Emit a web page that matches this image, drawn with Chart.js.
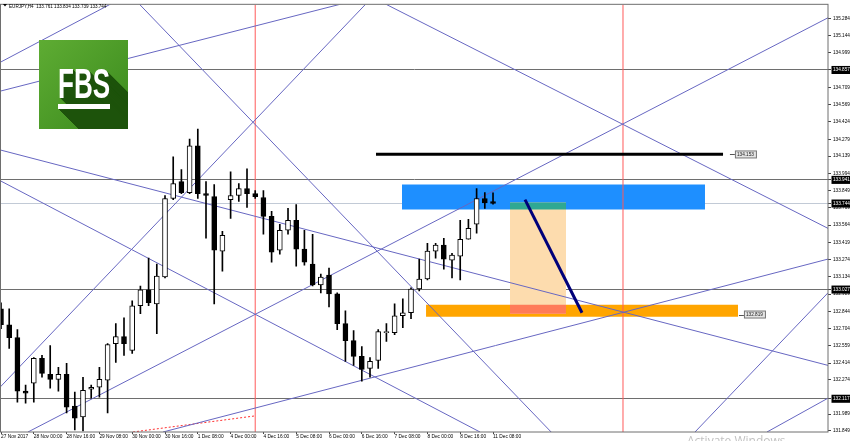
<!DOCTYPE html>
<html>
<head>
<meta charset="utf-8">
<title>EURJPY H4</title>
<script src="https://cdn.jsdelivr.net/npm/chart.js@4.4.1/dist/chart.umd.min.js"></script>
<style>
    html, body { margin: 0; padding: 0; background: #fff; }
    #wrap { width: 850px; height: 441px; }
</style>
</head>
<body>
<div id="wrap"><canvas id="mainChart" width="850" height="441"></canvas></div>
<script>
// EURJPY H4 candles, bar index 0 = 27 Nov 2017 08:00
const xTickIdx = [0, 4, 8, 12, 16, 20, 24, 28, 32, 36, 40, 44, 48, 52, 56, 60];
const xTickLabels = ['27 Nov 2017', '28 Nov 00:00', '28 Nov 16:00', '29 Nov 08:00', '30 Nov 00:00',
    '30 Nov 16:00', '1 Dec 08:00', '4 Dec 00:00', '4 Dec 16:00', '5 Dec 08:00', '6 Dec 00:00',
    '6 Dec 16:00', '7 Dec 08:00', '8 Dec 00:00', '8 Dec 16:00', '11 Dec 08:00'];

const yTickValues = [135.284, 135.144, 134.999, 134.709, 134.569, 134.424, 134.279, 134.139, 133.994,
    133.849, 133.709, 133.564, 133.419, 133.274, 133.134, 132.989, 132.844, 132.704, 132.559,
    132.414, 132.274, 131.989, 131.849];
const levelPrices = [134.857, 133.941, 133.744, 133.027, 132.117];

const opens = [132.867, 132.734, 132.627, 132.180, 132.246, 132.453, 132.321, 132.279, 132.321, 132.056,
    131.965, 132.196, 132.213, 132.271, 132.577, 132.635, 132.519, 132.892, 133.024, 132.908,
    133.132, 133.786, 133.926, 133.835, 134.224, 133.827, 133.802, 133.347, 133.777, 133.811,
    133.869, 133.827, 133.794, 133.637, 133.355, 133.521, 133.604, 133.364, 133.239, 133.066,
    133.148, 132.991, 132.743, 132.602, 132.470, 132.370, 132.436, 132.668, 132.668, 132.809,
    132.834, 133.032, 133.115, 133.347, 133.397, 133.273, 133.306, 133.446, 133.571, 133.786,
    133.761];
const highs = [132.917, 132.867, 132.693, 132.230, 132.461, 132.478, 132.561, 132.379, 132.412, 132.172,
    132.296, 132.230, 132.379, 132.577, 132.743, 132.792, 132.933, 133.057, 133.289, 133.239,
    133.811, 134.133, 134.026, 134.282, 134.365, 133.926, 133.902, 133.513, 134.009, 133.910,
    134.034, 133.852, 133.852, 133.678, 133.571, 133.703, 133.736, 133.521, 133.488, 133.157,
    133.206, 132.999, 132.850, 132.685, 132.552, 132.461, 132.693, 132.743, 132.908, 132.950,
    133.041, 133.281, 133.413, 133.413, 133.455, 133.330, 133.604, 133.612, 133.869, 133.835,
    133.834];
const lows = [132.701, 132.536, 132.089, 132.081, 132.089, 132.296, 132.205, 132.180, 131.998, 131.857,
    131.849, 132.122, 132.130, 131.998, 132.420, 132.478, 132.494, 132.826, 132.892, 132.660,
    133.124, 133.777, 133.827, 133.827, 133.786, 133.455, 132.908, 133.181, 133.620, 133.761,
    133.711, 133.786, 133.488, 133.256, 133.322, 133.488, 133.223, 133.231, 133.057, 132.999,
    132.883, 132.693, 132.428, 132.395, 132.263, 132.296, 132.370, 132.594, 132.652, 132.710,
    132.784, 133.016, 133.107, 133.289, 133.198, 133.124, 133.107, 133.446, 133.496, 133.703,
    133.739];
const closes = [132.734, 132.627, 132.180, 132.163, 132.453, 132.329, 132.279, 132.321, 132.047, 131.956,
    132.188, 132.213, 132.279, 132.569, 132.635, 132.577, 132.892, 133.024, 132.917, 133.140,
    133.786, 133.910, 133.835, 134.224, 133.827, 133.811, 133.355, 133.479, 133.811, 133.869,
    133.827, 133.802, 133.637, 133.339, 133.521, 133.604, 133.364, 133.256, 133.066, 133.132,
    132.991, 132.743, 132.602, 132.470, 132.362, 132.428, 132.677, 132.677, 132.809, 132.834,
    133.032, 133.115, 133.347, 133.397, 133.281, 133.314, 133.446, 133.537, 133.786, 133.750,
    133.744];

// drawn objects: [barFrom, priceFrom, barTo, priceTo]
const trendLines = [
    [-0.12, 134.920, 13.66, 135.417],
    [16.71, 135.417, 67.20, 131.832],
    [-0.12, 132.213, 44.63, 135.417],
    [-0.12, 134.191, 100.85, 132.395],
    [-0.12, 133.935, 58.41, 131.840],
    [-0.12, 134.680, 42.07, 135.417],
    [46.59, 135.417, 100.85, 133.537],
    [3.29, 131.840, 100.85, 135.292],
    [19.76, 131.840, 100.85, 133.281],
    [84.63, 131.840, 100.85, 133.000],
    [93.41, 131.840, 100.85, 132.122]
];
const arrowLine = [63.9, 133.777, 70.85, 132.834];
const targetLine = [45.73, 134.155, 88.05, 134.155];
const dottedLine = [16.1, 131.840, 30.85, 131.973];
const vLines = [31, 75.85];

// zones: [barFrom, barTo, priceLow, priceHigh]
const blueZone = [48.9, 85.85, 133.695, 133.902];
const orangeZone = [51.83, 89.88, 132.801, 132.900];
const peachZone = [62.07, 68.9, 132.826, 133.753];
const tealZone = [62.07, 68.9, 133.695, 133.753];
const coralZone = [62.07, 68.9, 132.826, 132.900];

const priceLabels = [
    { text: '134.153', bar: 89.5, price: 134.153 },
    { text: '132.819', bar: 90.6, price: 132.819 }
];

const X_MIN = 0, X_MAX = 100.85;
const Y_MIN = 131.840, Y_MAX = 135.400;
const tinyFont = '"Liberation Sans", Arial, sans-serif';

function segment(l, color, width, order, dash) {
    return {
        type: 'line',
        data: [{ x: l[0], y: l[1] }, { x: l[2], y: l[3] }],
        borderColor: color,
        borderWidth: width,
        borderDash: dash || [],
        pointRadius: 0,
        fill: false,
        order: order
    };
}

function zone(z, color, order) {
    return {
        type: 'line',
        data: [{ x: z[0], y: z[3] }, { x: z[1], y: z[3] }],
        borderWidth: 0,
        borderColor: 'rgba(0,0,0,0)',
        backgroundColor: color,
        fill: { value: z[2] },
        pointRadius: 0,
        order: order
    };
}

const datasets = [];
datasets.push(zone(blueZone, '#1e8fff', 30));
datasets.push(zone(orangeZone, '#ffa500', 30));
datasets.push(zone(peachZone, '#fddcae', 29));
datasets.push(zone(tealZone, '#2fa893', 28));
datasets.push(zone(coralZone, '#ff7b58', 28));

vLines.forEach(v => datasets.push(segment([v, Y_MIN, v, Y_MAX], '#ff5a5a', 1, 20)));
datasets.push(segment(dottedLine, '#ff3030', 1, 20, [2, 2]));
trendLines.forEach(l => datasets.push(segment(l, '#6767c2', 1, 10)));
datasets.push(segment(targetLine, '#000000', 3, 9));
datasets.push(segment(arrowLine, '#00007a', 3, 9));

// candles: wick + body as floating bars
datasets.push({
    type: 'bar',
    data: highs.map((h, i) => ({ x: i, y: [lows[i], h] })),
    backgroundColor: '#000',
    barThickness: 1,
    grouped: false,
    order: 2
});
datasets.push({
    type: 'bar',
    data: opens.map((o, i) => ({ x: i, y: [Math.min(o, closes[i]), Math.max(o, closes[i])] })),
    backgroundColor: ctx => closes[ctx.dataIndex] < opens[ctx.dataIndex] ? '#000' : '#fff',
    borderColor: '#000',
    borderWidth: 1,
    borderSkipped: false,
    barThickness: 5,
    grouped: false,
    order: 1
});

const isLevel = v => levelPrices.includes(v);

// frame, logo, header and labels
const overlayPlugin = {
    id: 'overlay',
    afterDatasetsDraw(chart) {
        const { ctx, chartArea: a, scales } = chart;
        ctx.save();

        // FBS logo
        const L = 39, T = 40, S = 89;
        ctx.beginPath();
        ctx.rect(L, T, S, S);
        ctx.clip();
        const g = ctx.createLinearGradient(L, T, L + S, T + S);
        g.addColorStop(0, '#5eac33');
        g.addColorStop(1, '#3b8a1d');
        ctx.fillStyle = g;
        ctx.fillRect(L, T, S, S);
        ctx.font = 'bold 42px "Liberation Sans", Arial, sans-serif';
        const mark = (off, color) => {
            ctx.fillStyle = color;
            ctx.save();
            ctx.translate(58 + off, 98 + off);
            ctx.scale(0.62, 1);
            ctx.fillText('FBS', 0, 0);
            ctx.restore();
            ctx.fillRect(58 + off, 104 + off, 52, 5);
        };
        for (let k = 60; k >= 1; k--) mark(k, '#1d530b');
        mark(0, '#ffffff');
        ctx.restore();

        // price labels
        ctx.save();
        ctx.font = '4.7px ' + tinyFont;
        ctx.textBaseline = 'middle';
        priceLabels.forEach(p => {
            const px = scales.x.getPixelForValue(p.bar);
            const py = scales.y.getPixelForValue(p.price);
            ctx.strokeStyle = '#555';
            ctx.lineWidth = 1;
            ctx.beginPath();
            ctx.moveTo(px - 5, Math.round(py) + 0.5);
            ctx.lineTo(px, Math.round(py) + 0.5);
            ctx.stroke();
            ctx.fillStyle = '#e4e4e4';
            ctx.fillRect(px, py - 3.5, 22, 7);
            ctx.strokeStyle = '#777';
            ctx.strokeRect(px + 0.5, py - 3.5, 21, 7);
            ctx.fillStyle = '#222';
            ctx.fillText(p.text, px + 2, py + 0.3);
        });
        ctx.restore();

        // chart frame
        ctx.save();
        ctx.strokeStyle = '#6e6e6e';
        ctx.lineWidth = 1;
        ctx.strokeRect(a.left - 0.5, a.top - 0.5, a.right - a.left + 0.5, a.bottom - a.top + 0.5);
        ctx.restore();
    },
    afterDraw(chart) {
        const { ctx } = chart;
        ctx.save();
        // symbol header
        ctx.fillStyle = '#000';
        ctx.beginPath();
        ctx.moveTo(3, 4);
        ctx.lineTo(7, 4);
        ctx.lineTo(5, 6.5);
        ctx.closePath();
        ctx.fill();
        ctx.font = '4.6px ' + tinyFont;
        ctx.textBaseline = 'alphabetic';
        ctx.fillText('EURJPY,H4  133.761 133.834 133.739 133.744', 9, 7.5);
        // OS watermark
        ctx.font = '12px "Open Sans", sans-serif';
        ctx.fillStyle = 'rgba(140,140,140,0.55)';
        ctx.fillText('Activate Windows', 687, 445);
        ctx.restore();
    }
};

// Main Chart Configuration
const mainCtx = document.getElementById('mainChart').getContext('2d');

const mainChart = new Chart(mainCtx, {
    type: 'bar',
    data: { datasets: datasets },
    options: {
        responsive: false,
        animation: false,
        events: [],
        layout: { padding: { left: 1, top: 2, right: 0, bottom: 0 } },
        plugins: {
            legend: { display: false },
            tooltip: { enabled: false }
        },
        scales: {
            x: {
                type: 'linear',
                position: 'bottom',
                min: X_MIN,
                max: X_MAX,
                offset: false,
                afterBuildTicks: scale => {
                    scale.ticks = xTickIdx.map(v => ({ value: v }));
                },
                afterFit: scale => { scale.height = 9; },
                border: { display: false },
                grid: {
                    offset: false,
                    color: 'rgba(0,0,0,0)',
                    tickColor: '#444',
                    tickLength: 2
                },
                ticks: {
                    autoSkip: false,
                    maxRotation: 0,
                    minRotation: 0,
                    align: 'start',
                    padding: 0,
                    color: '#000',
                    font: { size: 4.8, family: tinyFont },
                    callback: function(value) {
                        const i = xTickIdx.indexOf(value);
                        return i >= 0 ? xTickLabels[i] : '';
                    }
                }
            },
            y: {
                type: 'linear',
                position: 'right',
                min: Y_MIN,
                max: Y_MAX,
                afterBuildTicks: scale => {
                    scale.ticks = yTickValues.concat(levelPrices).map(v => ({ value: v }));
                },
                afterFit: scale => { scale.width = 22; },
                border: { display: false },
                grid: {
                    color: ctx => {
                        const v = ctx.tick && ctx.tick.value;
                        if (v === 133.744) return '#c2cad6';
                        return isLevel(v) ? '#6e6e6e' : 'rgba(0,0,0,0)';
                    },
                    tickColor: '#444',
                    tickLength: 3
                },
                ticks: {
                    autoSkip: false,
                    padding: 2,
                    color: ctx => isLevel(ctx.tick.value) ? '#fff' : '#000',
                    showLabelBackdrop: ctx => isLevel(ctx.tick.value),
                    backdropColor: '#000',
                    backdropPadding: { x: 1.5, y: 1.2 },
                    font: { size: 4.7, family: tinyFont },
                    callback: function(value) {
                        return value.toFixed(3);
                    }
                }
            }
        }
    },
    plugins: [overlayPlugin]
});
</script>
</body>
</html>
